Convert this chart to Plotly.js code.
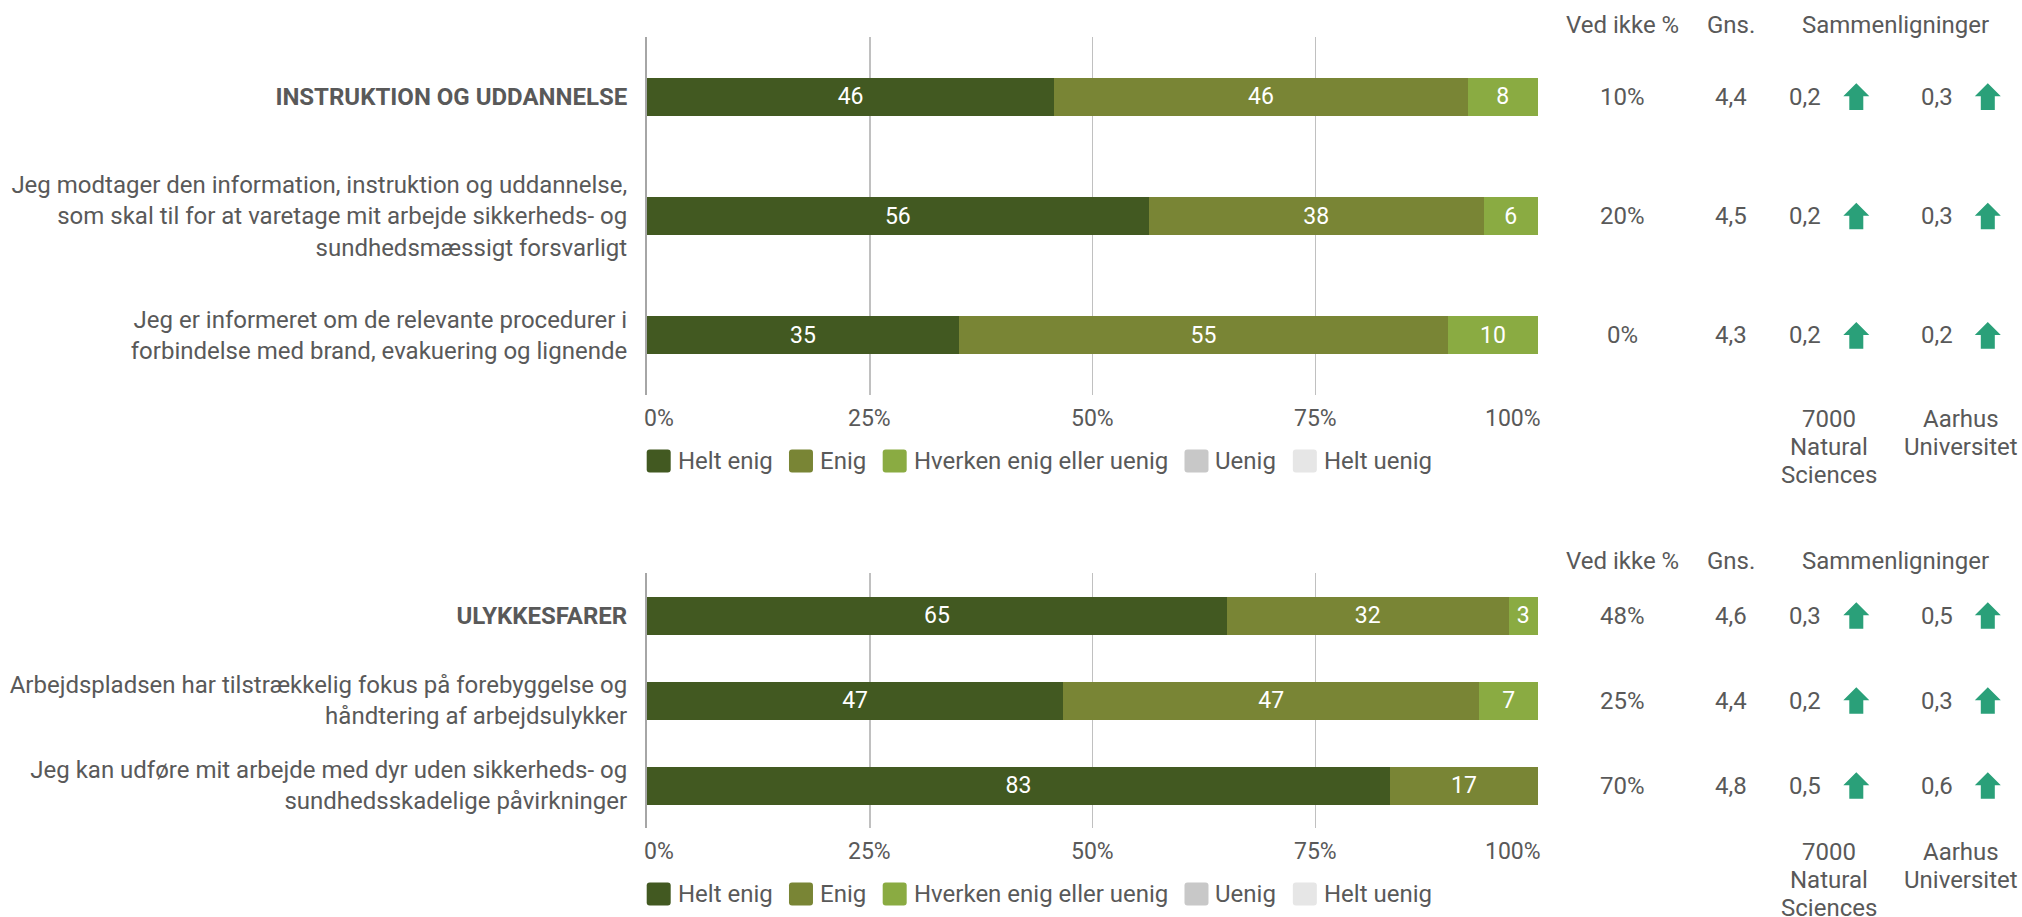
<!DOCTYPE html>
<html>
<head>
<meta charset="utf-8">
<script src="https://cdn.plot.ly/plotly-3.0.1.min.js"></script>
<style>
  html, body { margin: 0; padding: 0; background: #ffffff; }
  #chart { width: 2022px; height: 917px; }
</style>
</head>
<body>
<div id="chart"></div>
<script>
// ---------------- DATA ----------------
const seriesNames = ['Helt enig', 'Enig', 'Hverken enig eller uenig', 'Uenig', 'Helt uenig'];

const categoriesTop = [
  '<b>INSTRUKTION OG UDDANNELSE</b>',
  'Jeg modtager den information, instruktion og uddannelse,<br>som skal til for at varetage mit arbejde sikkerheds- og<br>sundhedsmæssigt forsvarligt',
  'Jeg er informeret om de relevante procedurer i<br>forbindelse med brand, evakuering og lignende'
];
const heltEnigTop   = [45.7, 56.3, 35.0];
const enigTop       = [46.4, 37.6, 54.9];
const hverkenTop    = [7.9, 6.1, 10.1];
const uenigTop      = [0, 0, 0];
const heltUenigTop  = [0, 0, 0];
const vedIkkeTop    = [10, 20, 0];
const gnsTop        = [4.4, 4.5, 4.3];
const cmpNaturalTop = [0.2, 0.2, 0.2];
const cmpAarhusTop  = [0.3, 0.3, 0.2];

const categoriesBottom = [
  '<b>ULYKKESFARER</b>',
  'Arbejdspladsen har tilstrækkelig fokus på forebyggelse og<br>håndtering af arbejdsulykker',
  'Jeg kan udføre mit arbejde med dyr uden sikkerheds- og<br>sundhedsskadelige påvirkninger'
];
const heltEnigBottom   = [65.1, 46.7, 83.4];
const enigBottom       = [31.6, 46.7, 16.6];
const hverkenBottom    = [3.3, 6.6, 0];
const uenigBottom      = [0, 0, 0];
const heltUenigBottom  = [0, 0, 0];
const vedIkkeBottom    = [48, 25, 70];
const gnsBottom        = [4.6, 4.4, 4.8];
const cmpNaturalBottom = [0.3, 0.2, 0.5];
const cmpAarhusBottom  = [0.5, 0.3, 0.6];

const tickVals = [0, 25, 50, 75, 100];
const tickText = ['0%', '25%', '50%', '75%', '100%'];
const tableHeaders = ['Ved ikke %', 'Gns.', 'Sammenligninger'];
const comparisonLabels = ['7000<br>Natural<br>Sciences', 'Aarhus<br>Universitet'];

// ---------------- STYLE ----------------
const W = 2022, H = 917;
const FONT = 'Roboto, "Open Sans", sans-serif';
const TXT = '#595959';
const seriesColors = ['#425921', '#798535', '#8aab42', '#c8c8c8', '#e6e6e6'];
const ARROW_UP_COLOR = '#2aa079';
const ARROW_DOWN_COLOR = '#d9534f';
const xDomain = [647 / W, 1538 / W];
const yDomainTop = [1 - 395 / H, 1 - 37 / H];
const yDomainBottom = [1 - 828 / H, 1 - 573 / H];
// column centres in pixels
const colVedIkke = 1622.5, colGns = 1730.5, colCmp1 = 1805, colCmp2 = 1937;
const colArrow1 = 1856.3, colArrow2 = 1987.8;
const colHeaderCmp = 1895;
const colCmpLabel1 = 1829, colCmpLabel2 = 1960.5;
const CMP_LINE_STEP = 28;

const fmt1 = v => v.toFixed(1).replace('.', ',');

const panels = [
  { cats: categoriesTop, series: [heltEnigTop, enigTop, hverkenTop, uenigTop, heltUenigTop],
    vedIkke: vedIkkeTop, gns: gnsTop, cmp1: cmpNaturalTop, cmp2: cmpAarhusTop,
    xa: 'x', ya: 'y', yDomain: yDomainTop, barWidth: 0.32 },
  { cats: categoriesBottom, series: [heltEnigBottom, enigBottom, hverkenBottom, uenigBottom, heltUenigBottom],
    vedIkke: vedIkkeBottom, gns: gnsBottom, cmp1: cmpNaturalBottom, cmp2: cmpAarhusBottom,
    xa: 'x2', ya: 'y2', yDomain: yDomainBottom, barWidth: 0.447 }
];

const traces = [];
const annotations = [];
const shapes = [];

const ctx = document.createElement('canvas').getContext('2d');
ctx.font = '24px Roboto';

const UP_PATH = 'M-7,-13.3 L7,-13.3 L7,0.3 L13,0.3 L0,13.3 L-13,0.3 L-7,0.3 Z';
const DOWN_PATH = 'M-7,13.3 L7,13.3 L7,-0.3 L13,-0.3 L0,-13.3 L-13,-0.3 L-7,-0.3 Z';
const SWATCH_PATH = 'M3,-11.5 L21,-11.5 Q24,-11.5 24,-8.5 L24,8.5 Q24,11.5 21,11.5 L3,11.5 Q0,11.5 0,8.5 L0,-8.5 Q0,-11.5 3,-11.5 Z';

panels.forEach(p => {
  const ydomRef = p.ya + ' domain';
  // bars
  p.series.forEach((vals, k) => {
    traces.push({
      type: 'bar', orientation: 'h', name: seriesNames[k],
      y: p.cats, x: vals, xaxis: p.xa, yaxis: p.ya, width: p.barWidth,
      marker: { color: seriesColors[k], line: { width: 0 } },
      text: vals.map(v => v > 0 ? String(Math.round(v)) : ''),
      textposition: 'inside', insidetextanchor: 'middle', textangle: 0,
      textfont: { family: FONT, size: 23, color: '#ffffff' },
      hoverinfo: 'skip', showlegend: false
    });
  });
  // x tick labels
  tickVals.forEach((v, i) => {
    const last = i === tickVals.length - 1;
    annotations.push({
      xref: p.xa, yref: ydomRef, x: v, y: 0, yshift: -23,
      xanchor: i === 0 ? 'left' : (last ? 'right' : 'center'),
      xshift: i === 0 ? -5 : (last ? 5 : 0),
      yanchor: 'middle', showarrow: false, text: tickText[i],
      font: { family: FONT, size: 23, color: TXT }
    });
  });
  // table headers
  [[colVedIkke, tableHeaders[0]], [colGns, tableHeaders[1]], [colHeaderCmp, tableHeaders[2]]].forEach(([cx, t]) => {
    annotations.push({
      xref: 'paper', yref: ydomRef, x: cx / W, y: 1, yshift: 12,
      xanchor: 'center', yanchor: 'middle', showarrow: false, text: t,
      font: { family: FONT, size: 24, color: TXT }
    });
  });
  // comparison labels (one annotation per line for tighter line spacing)
  [[colCmpLabel1, comparisonLabels[0]], [colCmpLabel2, comparisonLabels[1]]].forEach(([cx, t]) => {
    t.split('<br>').forEach((line, li) => {
      annotations.push({
        xref: 'paper', yref: ydomRef, x: cx / W, y: 0, yshift: -24 - li * CMP_LINE_STEP,
        xanchor: 'center', yanchor: 'middle', align: 'center', showarrow: false, text: line,
        font: { family: FONT, size: 24, color: TXT }
      });
    });
  });
  // table values and arrows
  p.cats.forEach((c, i) => {
    const cells = [
      [colVedIkke, p.vedIkke[i] + '%'],
      [colGns, fmt1(p.gns[i])],
      [colCmp1, fmt1(p.cmp1[i])],
      [colCmp2, fmt1(p.cmp2[i])]
    ];
    cells.forEach(([cx, t]) => {
      annotations.push({
        xref: 'paper', yref: p.ya, x: cx / W, y: i,
        xanchor: 'center', yanchor: 'middle', showarrow: false, text: t,
        font: { family: FONT, size: 24, color: TXT }
      });
    });
    [[colArrow1, p.cmp1[i]], [colArrow2, p.cmp2[i]]].forEach(([ax, v]) => {
      shapes.push({
        type: 'path', xref: 'paper', yref: p.ya,
        xsizemode: 'pixel', ysizemode: 'pixel', xanchor: ax / W, yanchor: i,
        path: v >= 0 ? UP_PATH : DOWN_PATH,
        fillcolor: v >= 0 ? ARROW_UP_COLOR : ARROW_DOWN_COLOR, line: { width: 0 }, layer: 'above'
      });
    });
  });
  // custom legend
  const legendCenterPx = (1 - p.yDomain[0]) * H + 66;
  let lx = 646.7;
  seriesNames.forEach((name, k) => {
    shapes.push({
      type: 'path', xref: 'paper', yref: 'paper',
      xsizemode: 'pixel', ysizemode: 'pixel', xanchor: lx / W, yanchor: 1 - legendCenterPx / H,
      path: SWATCH_PATH, fillcolor: seriesColors[k], line: { width: 0 }
    });
    const tx = lx + 24 + 6;
    annotations.push({
      xref: 'paper', yref: 'paper', x: tx / W, y: 1 - legendCenterPx / H, xshift: -1,
      xanchor: 'left', yanchor: 'middle', showarrow: false, text: name,
      font: { family: FONT, size: 24, color: TXT }
    });
    lx = tx + ctx.measureText(name).width + 17.5;
  });
});

const axisX = (anchor) => ({
  domain: xDomain, anchor: anchor, range: [0, 100], tickvals: tickVals,
  showticklabels: false, showgrid: true, gridcolor: '#c0c0c0', gridwidth: 1.5,
  zeroline: false, showline: false, ticks: '', fixedrange: true
});
const axisY = (anchor, dom) => ({
  domain: dom, anchor: anchor, type: 'category', autorange: 'reversed',
  showgrid: false, showline: true, linecolor: '#a6a6a6', linewidth: 2,
  ticks: '', ticklabelstandoff: 13, fixedrange: true,
  tickfont: { family: FONT, size: 24, color: TXT }
});

const layout = {
  width: W, height: H,
  margin: { l: 0, r: 0, t: 0, b: 0, pad: 0 },
  paper_bgcolor: '#ffffff', plot_bgcolor: '#ffffff',
  barmode: 'stack', showlegend: false,
  font: { family: FONT, color: TXT },
  xaxis: axisX('y'), yaxis: axisY('x', yDomainTop),
  xaxis2: axisX('y2'), yaxis2: axisY('x2', yDomainBottom),
  annotations: annotations, shapes: shapes
};

Plotly.newPlot('chart', traces, layout, { staticPlot: true, displayModeBar: false });
</script>
</body>
</html>
